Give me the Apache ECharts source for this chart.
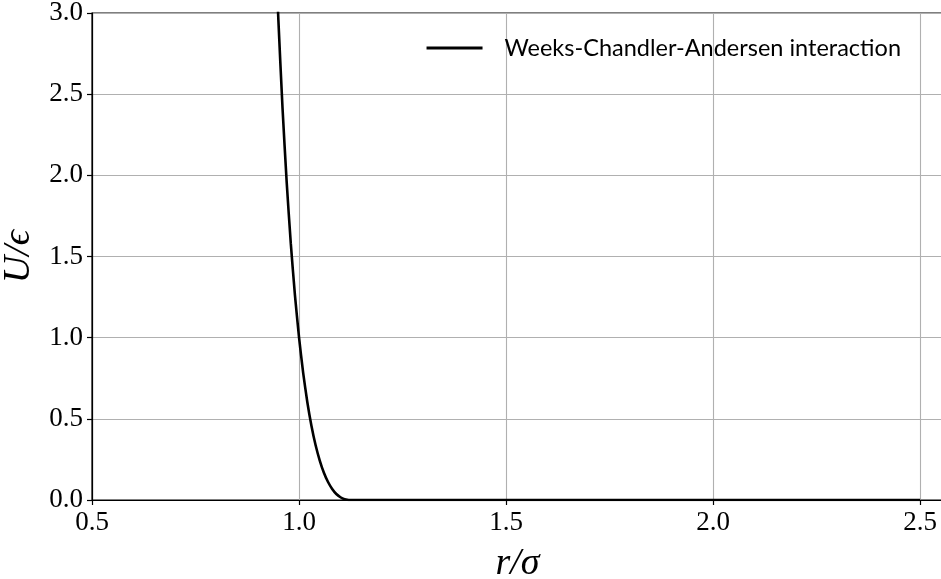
<!DOCTYPE html>
<html>
<head>
<meta charset="utf-8">
<script src="https://cdn.jsdelivr.net/npm/echarts@6/dist/echarts.min.js"></script>
<style>
html,body{margin:0;padding:0;background:#fff;}
#chart{width:941px;height:579px;}
</style>
</head>
<body>
<div id="chart"></div>
<script>
// r/sigma values and U/epsilon values
const rValues = [0.94, 0.95, 0.96, 0.97, 0.98, 0.99, 1.00, 1.01, 1.02, 1.03, 1.04, 1.05, 1.06, 1.07, 1.08, 1.09, 1.10, 1.11, 1.12, 1.1225, 1.5, 2.0, 2.5];
const uValues = [3.607, 2.961, 2.418, 1.963, 1.582, 1.264, 1.000, 0.782, 0.602, 0.456, 0.337, 0.243, 0.168, 0.111, 0.068, 0.037, 0.017, 0.005, 0.0002, 0, 0, 0, 0];
const seriesName = 'Weeks-Chandler-Andersen interaction';
const xTicks = ['0.5', '1.0', '1.5', '2.0', '2.5'];
const yTicks = ['0.0', '0.5', '1.0', '1.5', '2.0', '2.5', '3.0'];

const data = rValues.map((r, i) => [r, uValues[i]]);
const chart = echarts.init(document.getElementById('chart'), null, {renderer: 'canvas'});
const serif = '"Liberation Serif", "DejaVu Serif", serif';
chart.setOption({
  animation: false,
  backgroundColor: '#fff',
  grid: {left: 92, right: -2, top: 13, bottom: 79, outerBoundsMode: 'none', containLabel: false,
    show: true, borderColor: '#000', borderWidth: 1.2, backgroundColor: 'transparent'},
  legend: {
    show: true,
    data: [seriesName],
    right: 35,
    top: 31,
    itemWidth: 56,
    itemHeight: 3,
    icon: 'path://M0,0 L56,0 L56,3 L0,3 Z',
    textStyle: {fontFamily: 'Lato, "Noto Sans", sans-serif', fontSize: 23.5, color: '#000', padding: [0, 0, 0, 17]}
  },
  xAxis: {
    type: 'value', min: 0.5, max: 2.555, interval: 0.5,
    name: 'r/σ', nameLocation: 'middle', nameGap: 45,
    nameTextStyle: {fontFamily: serif, fontStyle: 'italic', fontSize: 38, color: '#000'},
    axisLine: {show: true, onZero: false, lineStyle: {color: '#000', width: 1.2}},
    axisTick: {show: true, inside: false, length: 5, lineStyle: {color: '#000', width: 1.2}},
    axisLabel: {show: true, margin: 9, fontFamily: serif, fontSize: 27, color: '#000',
      showMaxLabel: false,
      formatter: v => { const s = v.toFixed(1); return xTicks.indexOf(s) >= 0 && Math.abs(v*2 - Math.round(v*2)) < 1e-6 ? s : ''; }},
    splitLine: {show: true, lineStyle: {color: '#b0b0b0', width: 1.1}}
  },
  yAxis: {
    type: 'value', min: 0, max: 3, interval: 0.5,
    name: 'U/ϵ', nameLocation: 'middle', nameGap: 45, nameRotate: 90,
    nameTextStyle: {fontFamily: serif, fontStyle: 'italic', fontSize: 38, color: '#000'},
    axisLine: {show: true, onZero: false, lineStyle: {color: '#000', width: 1.2}},
    axisTick: {show: true, inside: false, length: 5, lineStyle: {color: '#000', width: 1.2}},
    axisLabel: {show: true, margin: 9, fontFamily: serif, fontSize: 27, color: '#000',
      formatter: v => { const s = v.toFixed(1); return yTicks.indexOf(s) >= 0 ? s : ''; }},
    splitLine: {show: true, lineStyle: {color: '#b0b0b0', width: 1.1}}
  },
  series: [{
    name: seriesName,
    type: 'line',
    data: data,
    showSymbol: false,
    symbol: 'none',
    smooth: 0.2,
    clip: true,
    lineStyle: {color: '#000', width: 2.6},
    itemStyle: {color: '#000'},
    z: 5
  }]
});
</script>
</body>
</html>
